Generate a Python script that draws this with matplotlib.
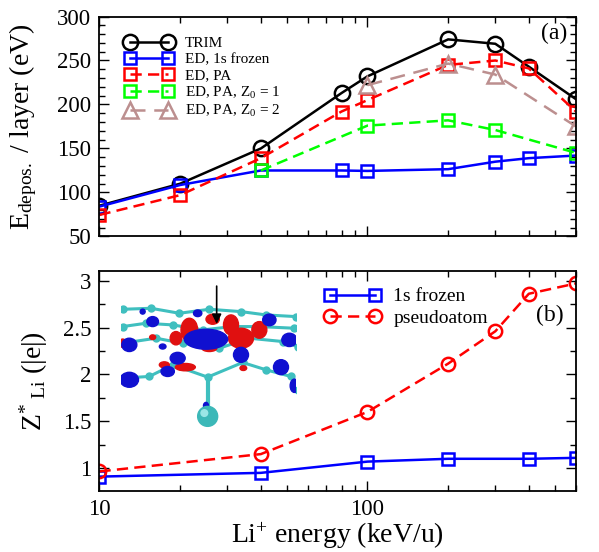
import matplotlib
matplotlib.use("Agg")
import matplotlib.pyplot as plt
from matplotlib.patches import Ellipse, Circle
from matplotlib.ticker import FixedLocator, NullFormatter, MultipleLocator, FuncFormatter

plt.rcParams['font.family'] = ['Liberation Serif', 'DejaVu Serif']
plt.rcParams['mathtext.fontset'] = 'custom'
plt.rcParams['mathtext.rm'] = 'Liberation Serif'
plt.rcParams['mathtext.it'] = 'Liberation Serif:italic'
plt.rcParams['mathtext.bf'] = 'Liberation Serif:bold'

# ---------------- data ----------------
energy = [10, 20, 40, 80, 100, 200, 300, 400, 600]
trim = [85, 110, 150, 213, 232, 274, 269, 243, 206]
ed_frozen = [84, 108.5, 125, 125, 124.5, 126.5, 135, 139, 142]
ed_pa = [74.5, 97, 139, 192, 205, 245, 250, 241, 192]
pa_z1_x = [40, 100, 200, 300, 600]
pa_z1 = [125, 176, 182, 171, 145]
pa_z2_x = [100, 200, 300, 600]
pa_z2 = [222, 246.5, 234, 175]

zb_x = [10, 40, 100, 200, 400, 600]
zb_frozen = [0.91, 0.95, 1.07, 1.10, 1.10, 1.11]
zb_pseudo_x = [10, 40, 100, 200, 300, 400, 600]
zb_pseudo = [0.965, 1.15, 1.60, 2.115, 2.46, 2.86, 2.97]

top_labels = ['TRIM', 'ED, 1s frozen', 'ED, PA', r'ED, PA, Z$_0$ = 1', r'ED, PA, Z$_0$ = 2']
bot_labels = ['1s frozen', 'pseudoatom']

# inset sketch (decorative picture approximation)
rows = [
    [(40, 88), (125, 85), (210, 100), (300, 88), (395, 95), (470, 105), (560, 110)],
    [(40, 140), (110, 130), (190, 135), (280, 150), (370, 140), (450, 140), (555, 145)],
    [(40, 190), (140, 175), (220, 190), (330, 205), (420, 175), (520, 185), (565, 200)],
    [(40, 295), (120, 290), (190, 255), (295, 292), (400, 248), (470, 270), (545, 290), (565, 330)],
]
blue_blobs = [(290, 178, 130, 60), (60, 195, 45, 40), (60, 300, 55, 45), (130, 125, 35, 30),
              (480, 120, 40, 35), (540, 180, 45, 40), (515, 262, 45, 45), (395, 225, 45, 45),
              (205, 235, 45, 35), (175, 275, 40, 30), (265, 100, 25, 20), (555, 318, 25, 40),
              (100, 95, 15, 15), (290, 378, 15, 20), (160, 200, 20, 15)]
red_blobs = [(240, 150, 50, 70), (365, 135, 45, 60), (395, 175, 75, 60), (200, 175, 35, 40),
             (300, 205, 45, 20), (450, 150, 45, 50), (228, 262, 60, 22), (165, 255, 30, 18),
             (310, 118, 40, 30), (40, 190, 20, 25), (402, 265, 20, 14), (130, 172, 18, 14)]

# ---------------- figure ----------------
fig = plt.figure(figsize=(5.99, 5.52), dpi=100)
ax1 = fig.add_axes([0.1661, 0.5716, 0.7955, 0.3985])
ax2 = fig.add_axes([0.1661, 0.1111, 0.7955, 0.3975])

lw = 1.8
mew = 1.8
common = dict(lw=lw, mew=mew, fillstyle='none')
ax1.plot(energy, trim, '-', color='black', marker='o', ms=11, label=top_labels[0], **common)
ax1.plot(energy, ed_frozen, '-', color='#0000ff', marker='s', ms=8.6, label=top_labels[1], **common)
ax1.plot(energy, ed_pa, '--', color='#ff0000', marker='s', ms=8.6, dashes=(4.5, 2.5), label=top_labels[2], **common)
ax1.plot(pa_z1_x, pa_z1, '--', color='#00ff00', marker='s', ms=8.6, dashes=(4.5, 2.5), label=top_labels[3], **common)
ax1.plot(pa_z2_x, pa_z2, '--', color='#bc8f8f', marker='^', ms=11, dashes=(6, 3.5), label=top_labels[4], **common)

ax2.plot(zb_x, zb_frozen, '-', color='#0000ff', marker='s', ms=8.6, label=bot_labels[0], **common)
ax2.plot(zb_pseudo_x, zb_pseudo, '--', color='#ff0000', marker='o', ms=9.6, dashes=(4.5, 2.5), label=bot_labels[1], **common)

for ax in (ax1, ax2):
    ax.set_xscale('log')
    ax.set_xlim(10, 600)
    ax.xaxis.set_major_locator(FixedLocator([10, 100]))
    ax.xaxis.set_minor_locator(FixedLocator([20, 30, 40, 50, 60, 70, 80, 90, 200, 300, 400, 500, 600]))
    ax.xaxis.set_minor_formatter(NullFormatter())
    ax.tick_params(which='both', direction='in', top=True, right=True, labelsize=16.5, width=1.0)
    ax.tick_params(which='major', length=7, pad=6)
    ax.tick_params(which='minor', length=4)
    for s in ax.spines.values():
        s.set_linewidth(1.3)

ax1.set_ylim(50, 300)
ax1.yaxis.set_major_locator(MultipleLocator(50))
ax1.yaxis.set_minor_locator(MultipleLocator(10))
ax1.tick_params(labelbottom=False)
ax1.set_ylabel(r'E$_{\mathrm{depos.}}$ / layer (eV)', fontsize=20)
ax1.yaxis.set_label_coords(-0.128, 0.5)

ax2.set_ylim(0.76, 3.1)
ax2.yaxis.set_major_locator(MultipleLocator(0.5))
ax2.yaxis.set_minor_locator(MultipleLocator(0.25))
ax2.yaxis.set_major_formatter(FuncFormatter(lambda v, p: ('%g' % v)))
ax2.xaxis.set_major_formatter(FuncFormatter(lambda v, p: '%d' % v))
ax2.set_ylabel(r'Z$^{*}$$_{\ \mathrm{Li}}$ (|e|)', fontsize=20)
ax2.yaxis.set_label_coords(-0.104, 0.5)
ax2.set_xlabel(r'Li$^{+}$ energy (keV/u)', fontsize=20)
ax2.xaxis.set_label_coords(0.5, -0.135)

leg1 = ax1.legend(loc='upper left', bbox_to_anchor=(0.055, 0.91), frameon=False, fontsize=11,
                  numpoints=2, handlelength=3.1, handletextpad=0.75, labelspacing=0.16,
                  borderpad=0, borderaxespad=0)
leg2 = ax2.legend(loc='upper left', bbox_to_anchor=(0.472, 0.925), frameon=False, fontsize=14,
                  numpoints=2, handlelength=2.9, handletextpad=0.65, labelspacing=0.2,
                  borderpad=0, borderaxespad=0)

ax1.text(0.954, 0.925, '(a)', transform=ax1.transAxes, fontsize=17, ha='center', va='center')
ax2.text(0.945, 0.80, '(b)', transform=ax2.transAxes, fontsize=17, ha='center', va='center')

# ---------------- inset picture ----------------
axi = fig.add_axes([121 / 599, 1 - 433 / 552, 175 / 599, 148 / 552])
axi.set_xlim(35, 560)
axi.set_ylim(460, 15)
axi.axis('off')
cyan = '#3fbfbf'
for row in rows:
    xs = [p[0] for p in row]
    ys = [p[1] for p in row]
    axi.plot(xs, ys, '-', color=cyan, lw=2.2, zorder=1)
    axi.plot(xs, ys, 'o', color=cyan, ms=5, zorder=2)
axi.plot([295, 295], [292, 410], '-', color=cyan, lw=3, zorder=1)
for (x, y, w, h) in red_blobs:
    axi.add_patch(Ellipse((x, y), w, h, color='#e01010', zorder=3))
for (x, y, w, h) in blue_blobs:
    axi.add_patch(Ellipse((x, y), w, h, color='#1010d0', zorder=4))
axi.add_patch(Circle((295, 410), 30, color='#3cb8b8', zorder=5))
axi.add_patch(Circle((285, 400), 10, color='#9ae6e6', zorder=6))
axi.annotate('', xy=(322, 140), xytext=(322, 10),
             arrowprops=dict(arrowstyle='-|>', color='black', lw=1.2, mutation_scale=14), zorder=7)

fig.savefig('out.png', dpi=100)
